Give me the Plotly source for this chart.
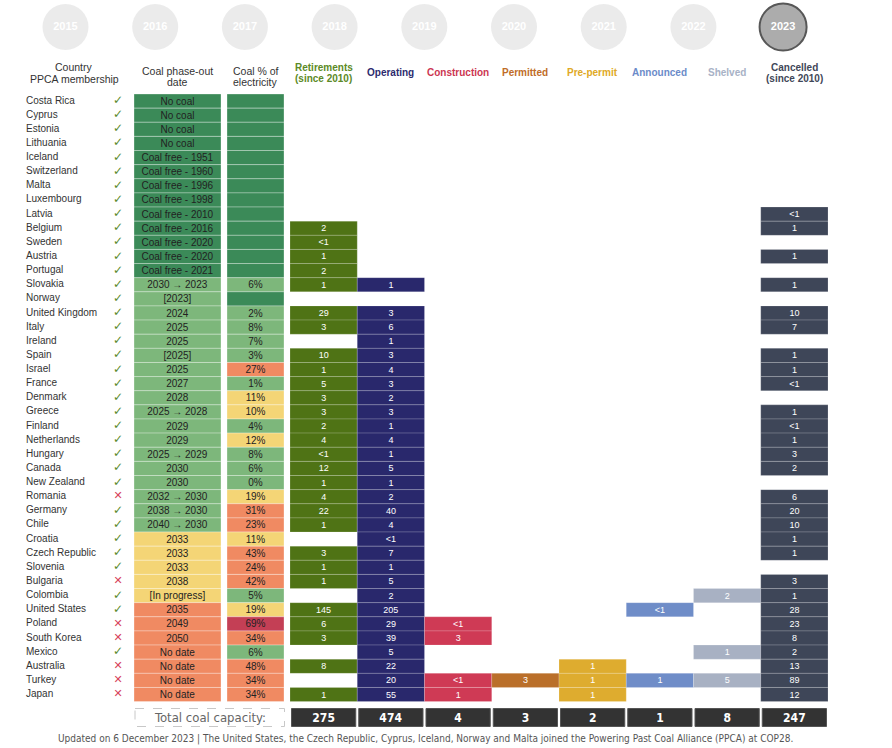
import plotly.graph_objects as go

# ---------------- data ----------------
countries = ["Costa Rica", "Cyprus", "Estonia", "Lithuania", "Iceland", "Switzerland", "Malta",
             "Luxembourg", "Latvia", "Belgium", "Sweden", "Austria", "Portugal", "Slovakia", "Norway",
             "United Kingdom", "Italy", "Ireland", "Spain", "Israel", "France", "Denmark", "Greece",
             "Finland", "Netherlands", "Hungary", "Canada", "New Zealand", "Romania", "Germany", "Chile",
             "Croatia", "Czech Republic", "Slovenia", "Bulgaria", "Colombia", "United States", "Poland",
             "South Korea", "Mexico", "Australia", "Turkey", "Japan"]

ppca_member = [1] * 28 + [0] + [1] * 5 + [0] + [1, 1] + [0, 0] + [1] + [0, 0, 0]

phaseout_date = ["No coal"] * 4 + [
    "Coal free - 1951", "Coal free - 1960", "Coal free - 1996", "Coal free - 1998", "Coal free - 2010",
    "Coal free - 2016", "Coal free - 2020", "Coal free - 2020", "Coal free - 2021",
    "2030 → 2023", "[2023]", "2024", "2025", "2025", "[2025]", "2025", "2027", "2028", "2025 → 2028",
    "2029", "2029", "2025 → 2029", "2030", "2030", "2032 → 2030", "2038 → 2030", "2040 → 2030",
    "2033", "2033", "2033", "2038", "[In progress]",
    "2035", "2049", "2050", "No date", "No date", "No date", "No date"]

phaseout_group = ["coal-free"] * 13 + ["by-2030"] * 18 + ["2031-2040"] * 5 + ["later-or-none"] * 7

coal_share_pct = [None] * 13 + [6, None, 2, 8, 7, 3, 27, 1, 11, 10, 4, 12, 8, 6, 0, 19, 31, 23,
                                11, 43, 24, 42, 5, 19, 69, 34, 6, 48, 34, 34]

retirements = {"Belgium": "2", "Sweden": "<1", "Austria": "1", "Portugal": "2", "Slovakia": "1",
               "United Kingdom": "29", "Italy": "3", "Spain": "10", "Israel": "1", "France": "5",
               "Denmark": "3", "Greece": "3", "Finland": "2", "Netherlands": "4", "Hungary": "<1",
               "Canada": "12", "New Zealand": "1", "Romania": "4", "Germany": "22", "Chile": "1",
               "Czech Republic": "3", "Slovenia": "1", "Bulgaria": "1", "United States": "145",
               "Poland": "6", "South Korea": "3", "Australia": "8", "Japan": "1"}
operating = {"Slovakia": "1", "United Kingdom": "3", "Italy": "6", "Ireland": "1", "Spain": "3",
             "Israel": "4", "France": "3", "Denmark": "2", "Greece": "3", "Finland": "1",
             "Netherlands": "4", "Hungary": "1", "Canada": "5", "New Zealand": "1", "Romania": "2",
             "Germany": "40", "Chile": "4", "Croatia": "<1", "Czech Republic": "7", "Slovenia": "1",
             "Bulgaria": "5", "Colombia": "2", "United States": "205", "Poland": "29",
             "South Korea": "39", "Mexico": "5", "Australia": "22", "Turkey": "20", "Japan": "55"}
construction = {"Poland": "<1", "South Korea": "3", "Turkey": "<1", "Japan": "1"}
permitted = {"Turkey": "3"}
pre_permit = {"Australia": "1", "Turkey": "1", "Japan": "1"}
announced = {"United States": "<1", "Turkey": "1"}
shelved = {"Colombia": "2", "Mexico": "1", "Turkey": "5"}
cancelled = {"Latvia": "<1", "Belgium": "1", "Austria": "1", "Slovakia": "1", "United Kingdom": "10",
             "Italy": "7", "Spain": "1", "Israel": "1", "France": "<1", "Greece": "1", "Finland": "<1",
             "Netherlands": "1", "Hungary": "3", "Canada": "2", "Romania": "6", "Germany": "20",
             "Chile": "10", "Croatia": "1", "Czech Republic": "1", "Bulgaria": "3", "Colombia": "1",
             "United States": "28", "Poland": "23", "South Korea": "8", "Mexico": "2",
             "Australia": "13", "Turkey": "89", "Japan": "12"}

pipeline_names = ["Retirements|(since 2010)", "Operating", "Construction", "Permitted", "Pre-permit",
                  "Announced", "Shelved", "Cancelled|(since 2010)"]
pipeline_values = [retirements, operating, construction, permitted, pre_permit, announced, shelved,
                   cancelled]
total_capacity = [275, 474, 4, 3, 2, 1, 8, 247]

timeline_years = [2015, 2016, 2017, 2018, 2019, 2020, 2021, 2022, 2023]
current_year = 2023

footer_text = ("Updated on 6 December 2023 | The United States, the Czech Republic, Cyprus, Iceland, "
               "Norway and Malta joined the Powering Past Coal Alliance (PPCA) at COP28.")

# ---------------- styles / layout ----------------
W, H = 892, 748
ROW_TOP, ROW_H = 94.0, 14.13


def ypos(p):
    return -0.5 + (p - ROW_TOP) / ROW_H


FONT = "Liberation Sans, Arial, Helvetica, sans-serif"
NARROW = "Liberation Sans Narrow, Arial Narrow, DejaVu Sans Condensed, sans-serif"

NAME_X, MARK_X = 26, 118
PHASE_X0, PHASE_W = 134, 87
ELEC_X0, ELEC_W = 227, 57
PIPE_X0, PIPE_W = 290, 67.25

group_colors = {"coal-free": "#3b8a58", "by-2030": "#7db77b", "2031-2040": "#f4d576",
                "later-or-none": "#f08a62"}
pipe_colors = ["#4f7315", "#29286c", "#cf3a55", "#ba6f2a", "#deac2f", "#6f8dc8", "#a8b1c3", "#3e4658"]
header_colors = ["#5c8a26", "#2c2b6e", "#cc3652", "#c06c28", "#e0a926", "#6b8bc9", "#a8b2c6", "#3f4758"]


def share_color(v):
    if v is None:
        return group_colors["coal-free"]
    if v < 10:
        return "#7db77b"
    if v < 20:
        return "#f4d576"
    if v < 60:
        return "#f08a62"
    return "#c43f55"


n = len(countries)
rows = list(range(n))
fig = go.Figure()

# phase-out date column
fig.add_trace(go.Bar(
    orientation="h", y=rows, x=[PHASE_W] * n, base=[PHASE_X0] * n, width=1,
    marker=dict(color=[group_colors[g] for g in phaseout_group],
                line=dict(color="rgba(255,255,255,0.3)", width=1)),
    text=phaseout_date, textposition="inside", insidetextanchor="middle", textangle=0,
    constraintext="none", textfont=dict(family=FONT, size=10, color="#222"), hoverinfo="skip"))

# coal share of electricity column
fig.add_trace(go.Bar(
    orientation="h", y=rows, x=[ELEC_W] * n, base=[ELEC_X0] * n, width=1,
    marker=dict(color=[share_color(v) for v in coal_share_pct],
                line=dict(color="rgba(255,255,255,0.3)", width=1)),
    text=["" if v is None else f"{v}%" for v in coal_share_pct], textposition="inside",
    insidetextanchor="middle", textangle=0, constraintext="none",
    textfont=dict(family=FONT, size=10, color="#222"), hoverinfo="skip"))

# pipeline columns
for i, vals in enumerate(pipeline_values):
    ys = [r for r, c in enumerate(countries) if c in vals]
    labels = [vals[countries[r]] for r in ys]
    fig.add_trace(go.Bar(
        orientation="h", y=ys, x=[PIPE_W] * len(ys), base=[PIPE_X0 + i * PIPE_W] * len(ys), width=1,
        marker=dict(color=pipe_colors[i], line=dict(color="rgba(255,255,255,0.18)", width=1)),
        text=labels, textposition="inside", insidetextanchor="middle", textangle=0,
        constraintext="none", textfont=dict(family=FONT, size=9, color="white"), hoverinfo="skip"))

# totals row
TOT_Y = ypos(717.5)
fig.add_trace(go.Bar(
    orientation="h", y=[TOT_Y] * len(total_capacity), x=[PIPE_W - 3] * len(total_capacity),
    base=[PIPE_X0 + 1.5 + i * PIPE_W for i in range(len(total_capacity))], width=18 / ROW_H,
    marker=dict(color="#333333", line=dict(color="#555", width=1)),
    text=[str(v) for v in total_capacity], textposition="inside", insidetextanchor="middle",
    textangle=0, constraintext="none",
    textfont=dict(family=NARROW, size=12, color="white", weight="bold"), hoverinfo="skip"))

# country names
fig.add_trace(go.Scatter(
    x=[NAME_X] * n, y=rows, mode="text", text=countries, textposition="middle right",
    textfont=dict(family=FONT, size=10, color="#333"), hoverinfo="skip"))

# PPCA membership marks
fig.add_trace(go.Scatter(
    x=[MARK_X] * n, y=rows, mode="text", text=["✓" if m else "✕" for m in ppca_member],
    textposition="middle center",
    textfont=dict(family="DejaVu Sans, sans-serif", size=[12 if m else 11 for m in ppca_member],
                  color=["#5a8a2c" if m else "#d7435c" for m in ppca_member]),
    hoverinfo="skip"))

# timeline circles
CIRC_Y = ypos(27)
fig.add_trace(go.Scatter(
    x=[65.5 + i * 89.7 for i in range(len(timeline_years))], y=[CIRC_Y] * len(timeline_years),
    mode="markers+text", text=[str(y) for y in timeline_years], textposition="middle center",
    marker=dict(size=[47 if y == current_year else 46 for y in timeline_years],
                color=["#8a8a8a" if y == current_year else "#e3e3e3" for y in timeline_years],
                line=dict(color=["#111" if y == current_year else "#e3e3e3" for y in timeline_years],
                          width=[2 if y == current_year else 0 for y in timeline_years])),
    textfont=dict(family=FONT, size=11, color="white", weight="bold"), hoverinfo="skip"))

annotations = []


def add_header(x, lines, ys, color, bold, size):
    for line, yp in zip(lines, ys):
        annotations.append(dict(x=x, y=ypos(yp), xref="x", yref="y", text=f"<b>{line}</b>" if bold else line,
                                showarrow=False, xanchor="center", yanchor="middle",
                                font=dict(family=FONT, size=size, color=color)))


add_header(74, ["Country", "PPCA membership"], [67.3, 79.3], "#333", False, 10.5)
add_header(PHASE_X0 + PHASE_W / 2, ["Coal phase-out", "date"], [70.7, 81.7], "#333", False, 10.5)
add_header(ELEC_X0 + ELEC_W / 2, ["Coal % of", "electricity"], [70.7, 81.7], "#333", False, 10.5)
for i, name in enumerate(pipeline_names):
    parts = name.split("|")
    ys = [67.3, 78.7] if len(parts) == 2 else [72.7]
    add_header(PIPE_X0 + (i + 0.5) * PIPE_W, parts, ys, header_colors[i], True, 10)

# total label
annotations.append(dict(x=(135 + 284) / 2, y=TOT_Y, xref="x", yref="y", text="Total coal capacity:",
                        showarrow=False, xanchor="center", yanchor="middle",
                        font=dict(family=NARROW, size=13, color="#666")))
# footer
annotations.append(dict(x=425, y=ypos(738.5), xref="x", yref="y", text=footer_text, showarrow=False,
                        xanchor="center", yanchor="middle", font=dict(family=NARROW, size=10, color="#555")))

shapes = [dict(type="rect", xref="x", yref="y", x0=135, x1=284.5, y0=ypos(708.5), y1=ypos(726.5),
               line=dict(color="#c8c8c8", width=1, dash="dash"), fillcolor="rgba(0,0,0,0)")]

fig.update_layout(
    width=W, height=H, margin=dict(l=0, r=0, t=0, b=0, pad=0),
    paper_bgcolor="white", plot_bgcolor="white", showlegend=False, barmode="overlay",
    xaxis=dict(range=[0, W], visible=False, showgrid=False, zeroline=False, fixedrange=True),
    yaxis=dict(range=[ypos(H), ypos(0)], visible=False, showgrid=False, zeroline=False, fixedrange=True),
    annotations=annotations, shapes=shapes,
)

fig.write_html("out.html", config={"displayModeBar": False},
               post_script="document.body.style.margin='0';document.body.style.padding='0';")
